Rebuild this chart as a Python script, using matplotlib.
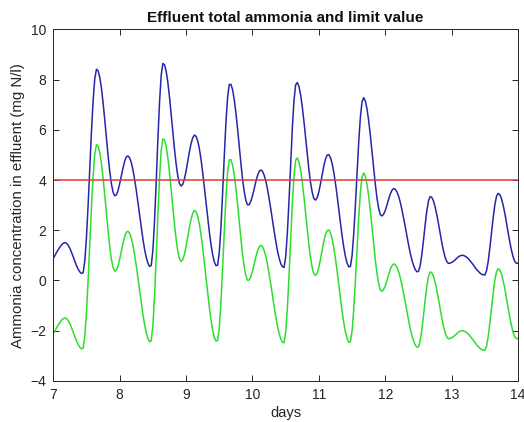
import numpy as np
import matplotlib
matplotlib.use("Agg")
import matplotlib.pyplot as plt

plt.rcParams['font.family'] = ['Liberation Sans', 'DejaVu Sans']

# sample times (days), every 0.025 day from 7 to 14
days = np.round(np.arange(7.0, 14.0001, 0.025), 3)

total_ammonia = [
    # day 7
    0.88, 1.00, 1.12, 1.23, 1.33, 1.42, 1.48, 1.51,
    1.48, 1.40, 1.28, 1.12, 0.94, 0.76, 0.59, 0.45,
    0.34, 0.28, 0.31, 0.79, 1.74, 3.03, 4.50, 5.94,
    7.17, 8.04, 8.41, 8.35, 8.09, 7.66, 7.07, 6.40,
    5.68, 4.98, 4.35, 3.85, 3.52, 3.37, 3.41, 3.58,
    # day 8
    3.85, 4.17, 4.48, 4.75, 4.92, 4.96, 4.88, 4.69,
    4.40, 4.02, 3.59, 3.10, 2.60, 2.10, 1.65, 1.24,
    0.92, 0.69, 0.56, 0.60, 1.20, 2.38, 3.93, 5.60,
    7.09, 8.17, 8.64, 8.59, 8.33, 7.89, 7.31, 6.64,
    5.93, 5.24, 4.64, 4.16, 3.86, 3.76, 3.83, 4.04,
    # day 9
    4.36, 4.74, 5.12, 5.45, 5.68, 5.79, 5.74, 5.56,
    5.25, 4.82, 4.30, 3.72, 3.12, 2.51, 1.94, 1.44,
    1.03, 0.74, 0.59, 0.61, 1.12, 2.13, 3.48, 4.93,
    6.28, 7.29, 7.80, 7.81, 7.60, 7.21, 6.68, 6.05,
    5.36, 4.68, 4.05, 3.55, 3.19, 3.01, 3.02, 3.15,
    # day 10
    3.37, 3.64, 3.93, 4.17, 4.34, 4.40, 4.35, 4.20,
    3.97, 3.65, 3.27, 2.86, 2.42, 1.98, 1.57, 1.20,
    0.90, 0.68, 0.55, 0.52, 0.94, 1.88, 3.18, 4.65,
    6.06, 7.16, 7.79, 7.88, 7.72, 7.39, 6.91, 6.33,
    5.68, 5.03, 4.41, 3.89, 3.50, 3.26, 3.20, 3.30,
    # day 11
    3.53, 3.86, 4.22, 4.57, 4.84, 4.99, 5.01, 4.89,
    4.65, 4.30, 3.86, 3.37, 2.82, 2.29, 1.77, 1.32,
    0.95, 0.69, 0.54, 0.56, 0.99, 1.86, 3.00, 4.29,
    5.52, 6.50, 7.12, 7.28, 7.14, 6.83, 6.36, 5.78,
    5.13, 4.45, 3.83, 3.28, 2.88, 2.62, 2.57, 2.64,
    # day 12
    2.79, 3.00, 3.23, 3.44, 3.59, 3.66, 3.63, 3.53,
    3.36, 3.12, 2.83, 2.50, 2.15, 1.78, 1.43, 1.10,
    0.82, 0.61, 0.44, 0.35, 0.36, 0.58, 1.02, 1.59,
    2.21, 2.76, 3.16, 3.34, 3.31, 3.17, 2.94, 2.63,
    2.28, 1.90, 1.53, 1.20, 0.93, 0.76, 0.68, 0.69,
    # day 13
    0.72, 0.76, 0.82, 0.88, 0.94, 0.98, 1.00, 1.00,
    0.97, 0.93, 0.87, 0.79, 0.71, 0.62, 0.53, 0.44,
    0.37, 0.30, 0.25, 0.23, 0.22, 0.39, 0.76, 1.30,
    1.90, 2.50, 3.01, 3.35, 3.47, 3.42, 3.26, 3.00,
    2.68, 2.31, 1.92, 1.54, 1.21, 0.94, 0.76, 0.68,
    # day 14
    0.69,
]

lower_ammonia = [
    # day 7
    -2.12, -2.00, -1.88, -1.77, -1.67, -1.58, -1.52, -1.49,
    -1.52, -1.60, -1.72, -1.88, -2.06, -2.24, -2.41, -2.55,
    -2.66, -2.72, -2.69, -2.21, -1.26, 0.03, 1.50, 2.94,
    4.17, 5.04, 5.41, 5.35, 5.09, 4.66, 4.07, 3.40,
    2.68, 1.98, 1.35, 0.85, 0.52, 0.37, 0.41, 0.58,
    # day 8
    0.85, 1.17, 1.48, 1.75, 1.92, 1.96, 1.88, 1.69,
    1.40, 1.02, 0.59, 0.10, -0.40, -0.90, -1.35, -1.76,
    -2.08, -2.31, -2.44, -2.40, -1.80, -0.62, 0.93, 2.60,
    4.09, 5.17, 5.64, 5.59, 5.33, 4.89, 4.31, 3.64,
    2.93, 2.24, 1.64, 1.16, 0.86, 0.76, 0.83, 1.04,
    # day 9
    1.36, 1.74, 2.12, 2.45, 2.68, 2.79, 2.74, 2.56,
    2.25, 1.82, 1.30, 0.72, 0.12, -0.49, -1.06, -1.56,
    -1.97, -2.26, -2.41, -2.39, -1.88, -0.87, 0.48, 1.93,
    3.28, 4.29, 4.80, 4.81, 4.60, 4.21, 3.68, 3.05,
    2.36, 1.68, 1.05, 0.55, 0.19, 0.01, 0.02, 0.15,
    # day 10
    0.37, 0.64, 0.93, 1.17, 1.34, 1.40, 1.35, 1.20,
    0.97, 0.65, 0.27, -0.14, -0.58, -1.02, -1.43, -1.80,
    -2.10, -2.32, -2.45, -2.48, -2.06, -1.12, 0.18, 1.65,
    3.06, 4.16, 4.79, 4.88, 4.72, 4.39, 3.91, 3.33,
    2.68, 2.03, 1.41, 0.89, 0.50, 0.26, 0.20, 0.30,
    # day 11
    0.53, 0.86, 1.22, 1.57, 1.84, 1.99, 2.01, 1.89,
    1.65, 1.30, 0.86, 0.37, -0.18, -0.71, -1.23, -1.68,
    -2.05, -2.31, -2.46, -2.44, -2.01, -1.14, 0.00, 1.29,
    2.52, 3.50, 4.12, 4.28, 4.14, 3.83, 3.36, 2.78,
    2.13, 1.45, 0.83, 0.28, -0.12, -0.38, -0.43, -0.36,
    # day 12
    -0.21, 0.00, 0.23, 0.44, 0.59, 0.66, 0.63, 0.53,
    0.36, 0.12, -0.17, -0.50, -0.85, -1.22, -1.57, -1.90,
    -2.18, -2.39, -2.56, -2.65, -2.64, -2.42, -1.98, -1.41,
    -0.79, -0.24, 0.16, 0.34, 0.31, 0.17, -0.06, -0.37,
    -0.72, -1.10, -1.47, -1.80, -2.07, -2.24, -2.32, -2.31,
    # day 13
    -2.28, -2.24, -2.18, -2.12, -2.06, -2.02, -2.00, -2.00,
    -2.03, -2.07, -2.13, -2.21, -2.29, -2.38, -2.47, -2.56,
    -2.63, -2.70, -2.75, -2.77, -2.78, -2.61, -2.24, -1.70,
    -1.10, -0.50, 0.01, 0.35, 0.47, 0.42, 0.26, 0.00,
    -0.32, -0.69, -1.08, -1.46, -1.79, -2.06, -2.24, -2.32,
    # day 14
    -2.31,
]

limit_value = 4
x_ticks = [7, 8, 9, 10, 11, 12, 13, 14]
y_ticks = [-4, -2, 0, 2, 4, 6, 8, 10]

fig = plt.figure(figsize=(5.24, 4.22), dpi=100)
ax = fig.add_axes([0.1017, 0.0972, 0.887, 0.8334])

ax.plot(days, total_ammonia, color='#2626a8', lw=1.1)
ax.plot(days, lower_ammonia, color='#2ede2e', lw=1.1)
ax.axhline(limit_value, color='#e03a3a', lw=1.1)

ax.set_xlim(7, 14)
ax.set_ylim(-4, 10)
ax.set_xticks(x_ticks)
ax.set_yticks(y_ticks)
ax.tick_params(direction='in', length=4, width=0.7, top=True, right=True,
               labelsize=10, colors='#262626', pad=5)
for s in ax.spines.values():
    s.set_color('#262626')
    s.set_linewidth(0.7)

ax.set_title('Effluent total ammonia and limit value', fontsize=11,
             fontweight='bold', color='#111111', pad=5)
ax.set_xlabel('days', fontsize=10.5, color='#262626', labelpad=3)
ax.set_ylabel('Ammonia concentration in effluent (mg N/l)', fontsize=10.8,
              color='#262626', labelpad=4)

fig.savefig('out.png', dpi=100)
